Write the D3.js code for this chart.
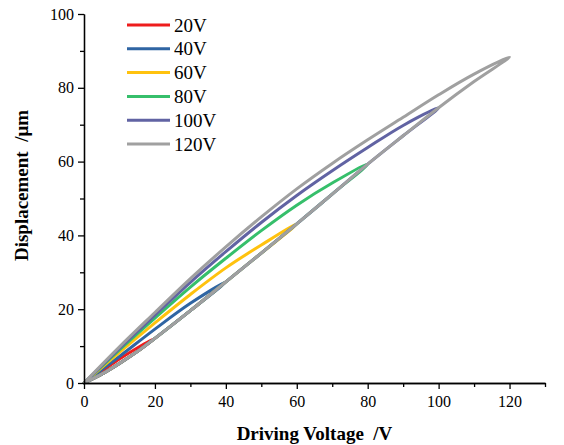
<!DOCTYPE html>
<html>
<head>
<meta charset="utf-8">
<script src="https://cdn.jsdelivr.net/npm/d3@7"></script>
<style>
  html, body { margin: 0; padding: 0; background: #fff; }
  svg { display: block; font-family: "Liberation Serif", "Times New Roman", serif; }
  .title { white-space: pre; }
</style>
</head>
<body>
<svg id="chart" width="564" height="445"></svg>
<script>
// Hysteresis loops of the actuator: displacement (µm) versus driving voltage (V)
const seriesNames = ["20V", "40V", "60V", "80V", "100V", "120V"];
const seriesColors = ["#ee1c1c", "#2f65a3", "#ffc20e", "#36bf6b", "#6163a3", "#a0a0a0"];

// Rising branch (voltage going up), shared by every loop up to its peak voltage
const riseVoltage = [0, 5, 10, 15, 20, 30, 40, 50, 60, 70, 80, 90, 100, 110, 120];
const riseDisp    = [0, 2.4, 5.3, 8.5, 12.1, 19.6, 27.4, 35.2, 43.1, 51.2, 59.3, 67.0, 74.6, 81.7, 88.3];

// Falling branches (voltage coming back down), listed from 0 V up to each peak
const fallVoltage20  = [0, 5, 10, 15, 20];
const fallDisp20     = [0, 3.2, 6.5, 9.5, 12.1];
const fallVoltage40  = [0, 10, 20, 30, 40];
const fallDisp40     = [0, 7.2, 14.6, 21.6, 27.4];
const fallVoltage60  = [0, 10, 20, 30, 40, 50, 60];
const fallDisp60     = [0, 8.3, 16.3, 24.0, 31.2, 37.4, 43.1];
const fallVoltage80  = [0, 10, 20, 30, 40, 50, 60, 70, 80];
const fallDisp80     = [0, 9.0, 17.6, 26.0, 33.8, 41.3, 48.2, 54.2, 59.3];
const fallVoltage100 = [0, 10, 20, 30, 40, 50, 60, 70, 80, 90, 100];
const fallDisp100    = [0, 9.4, 18.4, 27.3, 35.6, 43.5, 50.8, 57.5, 63.8, 69.8, 74.6];
const fallVoltage120 = [0, 10, 20, 30, 40, 50, 60, 70, 80, 90, 100, 110, 120];
const fallDisp120    = [0, 9.8, 19.1, 28.3, 36.9, 45.0, 52.6, 59.5, 65.9, 72.0, 78.1, 83.7, 88.3];

const peakVoltages = [20, 40, 60, 80, 100, 120];
const fallVoltages = [fallVoltage20, fallVoltage40, fallVoltage60, fallVoltage80, fallVoltage100, fallVoltage120];
const fallDisps    = [fallDisp20, fallDisp40, fallDisp60, fallDisp80, fallDisp100, fallDisp120];

const xTicks = [0, 20, 40, 60, 80, 100, 120];
const yTicks = [0, 20, 40, 60, 80, 100];
const xTitle = "Driving Voltage  /V";
const yTitle = "Displacement  /\u03bcm";

const svg = d3.select("#chart");
const margin = { left: 84, right: 19, top: 14, bottom: 62 };
const W = 564, H = 445;

const x = d3.scaleLinear().domain([0, 130]).range([margin.left, W - margin.right]);
const y = d3.scaleLinear().domain([0, 100]).range([H - margin.bottom, margin.top]);

// Loops: rising branch up to the peak, then falling branch back to zero
const loops = peakVoltages.map((vm, i) => {
  const pts = [];
  riseVoltage.forEach((v, k) => { if (v <= vm) pts.push([v, riseDisp[k]]); });
  const fv = fallVoltages[i], fd = fallDisps[i];
  for (let k = fv.length - 2; k >= 0; k--) pts.push([fv[k], fd[k]]);
  return { name: seriesNames[i], color: seriesColors[i], pts };
});

const line = d3.line()
  .x(d => x(d[0]))
  .y(d => y(d[1]))
  .curve(d3.curveCatmullRom.alpha(0.5));

svg.append("g")
  .selectAll("path")
  .data(loops)
  .join("path")
  .attr("d", d => line(d.pts))
  .attr("fill", "none")
  .attr("stroke", d => d.color)
  .attr("stroke-width", 3)
  .attr("stroke-linejoin", "round")
  .attr("stroke-linecap", "round");

// Axes: major ticks with labels, minor ticks in between
function styleAxis(g) {
  g.select(".domain").attr("stroke", "#000").attr("stroke-width", 1.3);
  g.selectAll(".tick line").attr("stroke", "#000").attr("stroke-width", 1.3);
  g.selectAll(".tick text").attr("fill", "#000")
    .style("font-family", "'Liberation Serif', 'Times New Roman', serif")
    .style("font-size", "16px");
}

const xMinor = d3.range(10, 131, 20);
const yMinor = d3.range(10, 100, 20);

svg.append("g")
  .attr("transform", `translate(0,${y(0)})`)
  .call(d3.axisBottom(x).tickValues(xMinor).tickSize(4).tickFormat("").tickSizeOuter(0))
  .call(styleAxis);
svg.append("g")
  .attr("transform", `translate(0,${y(0)})`)
  .call(d3.axisBottom(x).tickValues(xTicks).tickSize(6).tickPadding(7).tickFormat(d3.format("d")).tickSizeOuter(0))
  .call(styleAxis);

svg.append("g")
  .attr("transform", `translate(${x(0)},0)`)
  .call(d3.axisLeft(y).tickValues(yMinor).tickSize(4).tickFormat("").tickSizeOuter(0))
  .call(styleAxis);
svg.append("g")
  .attr("transform", `translate(${x(0)},0)`)
  .call(d3.axisLeft(y).tickValues(yTicks).tickSize(6).tickPadding(4).tickFormat(d3.format("d")).tickSizeOuter(0))
  .call(styleAxis);

// Axis titles
svg.append("text")
  .attr("class", "title")
  .attr("x", (x(0) + x(130)) / 2)
  .attr("y", 440)
  .attr("text-anchor", "middle")
  .attr("font-weight", "bold")
  .attr("font-size", 19)
  .attr("fill", "#000")
  .text(xTitle);

svg.append("text")
  .attr("class", "title")
  .attr("transform", `translate(28,${(y(0) + y(100)) / 2 - 13}) rotate(-90)`)
  .attr("text-anchor", "middle")
  .attr("font-weight", "bold")
  .attr("font-size", 19)
  .attr("fill", "#000")
  .text(yTitle);

// Legend
const legend = svg.append("g").attr("transform", "translate(127,25)");
const rows = legend.selectAll("g")
  .data(loops)
  .join("g")
  .attr("transform", (d, i) => `translate(0,${i * 23.8})`);
rows.append("line")
  .attr("x1", 0).attr("x2", 43)
  .attr("y1", 0).attr("y2", 0)
  .attr("stroke", d => d.color)
  .attr("stroke-width", 3);
rows.append("text")
  .attr("x", 47)
  .attr("y", 0)
  .attr("dy", "0.35em")
  .attr("font-size", 19)
  .attr("fill", "#000")
  .text(d => d.name);
</script>
</body>
</html>
